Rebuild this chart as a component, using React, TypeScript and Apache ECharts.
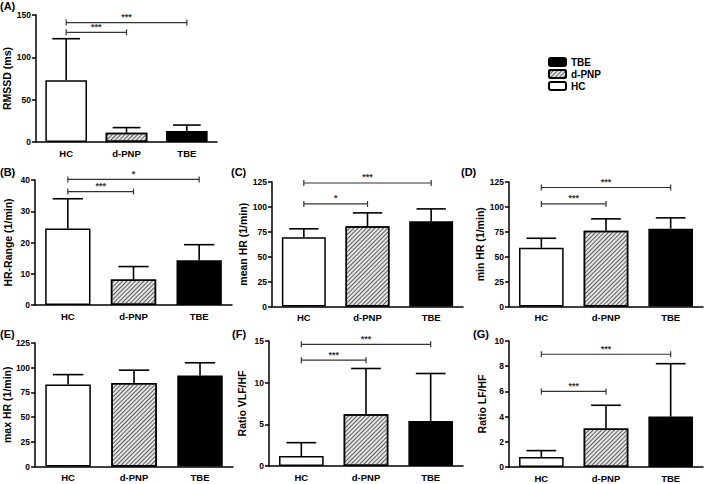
import React, { useEffect, useRef } from "react";
import * as echarts from "echarts";

const categories = ["HC", "d-PNP", "TBE"];

const rmssdMean = [73, 11, 13];
const rmssdUpper = [122, 17, 20];
const hrRangeMean = [24.5, 8.2, 14.3];
const hrRangeUpper = [34, 12.3, 19.3];
const meanHrMean = [69.5, 80.5, 85.5];
const meanHrUpper = [78, 94, 98];
const minHrMean = [59, 76, 78];
const minHrUpper = [68.5, 88, 89];
const maxHrMean = [83, 84.5, 92];
const maxHrUpper = [93, 97.5, 105];
const vlfHfMean = [1.2, 6.2, 5.4];
const vlfHfUpper = [2.8, 11.7, 11.1];
const lfHfMean = [0.8, 3.05, 4.0];
const lfHfUpper = [1.3, 4.9, 8.2];

// [fromIndex, toIndex, yValue, label]
const rmssdBrackets: [number, number, number, string][] = [[0, 1, 129.5, "***"], [0, 2, 141, "***"]];
const hrRangeBrackets: [number, number, number, string][] = [[0, 1, 36.3, "***"], [0, 2, 40.2, "*"]];
const meanHrBrackets: [number, number, number, string][] = [[0, 1, 103, "*"], [0, 2, 124, "***"]];
const minHrBrackets: [number, number, number, string][] = [[0, 1, 103, "***"], [0, 2, 119.5, "***"]];
const maxHrBrackets: [number, number, number, string][] = [];
const vlfHfBrackets: [number, number, number, string][] = [[0, 1, 12.7, "***"], [0, 2, 14.6, "***"]];
const lfHfBrackets: [number, number, number, string][] = [[0, 1, 6.0, "***"], [0, 2, 8.95, "***"]];

const legendOrder = ["TBE", "d-PNP", "HC"];

const FONT = "'Liberation Sans', Arial, sans-serif";

const panels = [
  { label: "(A)", name: "RMSSD (ms)", mean: rmssdMean, upper: rmssdUpper, max: 150, interval: 50, brackets: rmssdBrackets },
  { label: "(B)", name: "HR-Range (1/min)", mean: hrRangeMean, upper: hrRangeUpper, max: 40, interval: 10, brackets: hrRangeBrackets },
  { label: "(C)", name: "mean HR (1/min)", mean: meanHrMean, upper: meanHrUpper, max: 125, interval: 25, brackets: meanHrBrackets },
  { label: "(D)", name: "min HR (1/min)", mean: minHrMean, upper: minHrUpper, max: 125, interval: 25, brackets: minHrBrackets },
  { label: "(E)", name: "max HR (1/min)", mean: maxHrMean, upper: maxHrUpper, max: 125, interval: 25, brackets: maxHrBrackets },
  { label: "(F)", name: "Ratio VLF/HF", mean: vlfHfMean, upper: vlfHfUpper, max: 15, interval: 5, brackets: vlfHfBrackets },
  { label: "(G)", name: "Ratio LF/HF", mean: lfHfMean, upper: lfHfUpper, max: 10, interval: 2, brackets: lfHfBrackets },
];

const layouts = [
  { grid: { left: 36, top: 15, width: 181, height: 127 }, lab: [0, 0] },
  { grid: { left: 35, top: 180, width: 197, height: 125 }, lab: [0, 166] },
  { grid: { left: 272, top: 182, width: 191, height: 124.5 }, lab: [231, 166] },
  { grid: { left: 509, top: 182, width: 194, height: 124.5 }, lab: [461, 166] },
  { grid: { left: 35, top: 343, width: 198, height: 123.5 }, lab: [0, 328] },
  { grid: { left: 269, top: 341, width: 194, height: 125 }, lab: [232, 328] },
  { grid: { left: 509, top: 341, width: 194, height: 126 }, lab: [473, 328] },
];

const barStyles = [
  { color: "#ffffff", borderColor: "#000", borderWidth: 1.5 },
  {
    color: "#e4e4e4",
    borderColor: "#000",
    borderWidth: 1.5,
    decal: {
      symbol: "rect",
      color: "#5e5e5e",
      dashArrayX: [1, 0],
      dashArrayY: [1, 1.8],
      rotation: -Math.PI / 4,
      symbolSize: 1,
    },
  },
  { color: "#000000", borderColor: "#000", borderWidth: 1.5 },
];

export default function App() {
  const ref = useRef<HTMLDivElement>(null);
  useEffect(() => {
    document.body.style.margin = "0";
    if (!ref.current) return;
    const chart = echarts.init(ref.current, undefined, { renderer: "svg" });

    const grid: any[] = [];
    const xAxis: any[] = [];
    const yAxis: any[] = [];
    const series: any[] = [];
    const title: any[] = [];

    panels.forEach((p, k) => {
      const L = layouts[k];
      grid.push({ ...L.grid, containLabel: false });
      title.push({
        text: p.label,
        left: L.lab[0],
        top: L.lab[1],
        padding: 0,
        textStyle: { fontSize: 11, fontWeight: "bold", color: "#000", fontFamily: FONT },
      });
      xAxis.push({
        type: "category",
        gridIndex: k,
        data: categories,
        axisLine: { lineStyle: { color: "#000", width: 1.5 } },
        axisTick: { show: false },
        axisLabel: { color: "#000", fontWeight: "bold", fontSize: 9.5, fontFamily: FONT, margin: 6 },
      });
      yAxis.push({
        type: "value",
        gridIndex: k,
        min: 0,
        max: p.max,
        interval: p.interval,
        name: p.name,
        nameLocation: "middle",
        nameGap: 22,
        nameTextStyle: { color: "#000", fontWeight: "bold", fontSize: 10.5, fontFamily: FONT },
        axisLine: { show: true, lineStyle: { color: "#000", width: 1.5 } },
        axisTick: { show: true, length: 4, lineStyle: { color: "#000", width: 1.5 } },
        splitLine: { show: false },
        axisLabel: { color: "#000", fontWeight: "bold", fontSize: 8.5, fontFamily: FONT, margin: 5 },
      });
      categories.forEach((c, i) => {
        series.push({
          type: "bar",
          name: c,
          xAxisIndex: k,
          yAxisIndex: k,
          barWidth: "69%",
          barGap: "-100%",
          data: categories.map((_, j) => (j === i ? p.mean[j] : "-")),
          itemStyle: barStyles[i],
          z: 2,
        });
      });
      series.push({
        type: "custom",
        name: "err" + k,
        xAxisIndex: k,
        yAxisIndex: k,
        z: 5,
        data: categories.map((_, j) => [j, p.mean[j], p.upper[j]]),
        encode: { x: 0, y: [1, 2] },
        renderItem: (params: any, api: any) => {
          const base = api.coord([api.value(0), api.value(1)]);
          const top = api.coord([api.value(0), api.value(2)]);
          const bw = api.size([1, 0])[0] * 0.46;
          const st = { stroke: "#000", lineWidth: 1.6 };
          return {
            type: "group",
            children: [
              { type: "line", shape: { x1: base[0], y1: base[1], x2: top[0], y2: top[1] }, style: st },
              { type: "line", shape: { x1: top[0] - bw / 2, y1: top[1], x2: top[0] + bw / 2, y2: top[1] }, style: st },
            ],
          };
        },
      });
      if (p.brackets.length) {
        const labels = p.brackets.map((b) => b[3]);
        series.push({
          type: "custom",
          name: "sig" + k,
          xAxisIndex: k,
          yAxisIndex: k,
          z: 6,
          clip: false,
          data: p.brackets.map((b) => [b[0], b[1], b[2]]),
          encode: { x: [0, 1], y: 2 },
          renderItem: (params: any, api: any) => {
            const a = api.coord([api.value(0), api.value(2)]);
            const b = api.coord([api.value(1), api.value(2)]);
            const st = { stroke: "#333", lineWidth: 1.2 };
            return {
              type: "group",
              children: [
                { type: "line", shape: { x1: a[0], y1: a[1], x2: b[0], y2: b[1] }, style: st },
                { type: "line", shape: { x1: a[0], y1: a[1] - 3, x2: a[0], y2: a[1] + 3 }, style: st },
                { type: "line", shape: { x1: b[0], y1: b[1] - 3, x2: b[0], y2: b[1] + 3 }, style: st },
                {
                  type: "text",
                  style: {
                    text: labels[params.dataIndex],
                    x: (a[0] + b[0]) / 2,
                    y: a[1] - 1,
                    align: "center",
                    verticalAlign: "bottom",
                    fill: "#333",
                    fontSize: 9,
                    fontWeight: "bold",
                    fontFamily: FONT,
                  },
                },
              ],
            };
          },
        });
      }
    });

    chart.setOption({
      animation: false,
      backgroundColor: "#fff",
      title,
      grid,
      xAxis,
      yAxis,
      series,
      legend: {
        data: legendOrder,
        orient: "vertical",
        left: 548,
        top: 57,
        padding: 0,
        itemWidth: 17,
        itemHeight: 8,
        itemGap: 2,
        selectedMode: false,
        textStyle: { color: "#000", fontWeight: "bold", fontSize: 10, fontFamily: FONT, lineHeight: 9 },
      },
    });
    return () => chart.dispose();
  }, []);
  return <div ref={ref} style={{ width: 704, height: 484 }} />;
}
